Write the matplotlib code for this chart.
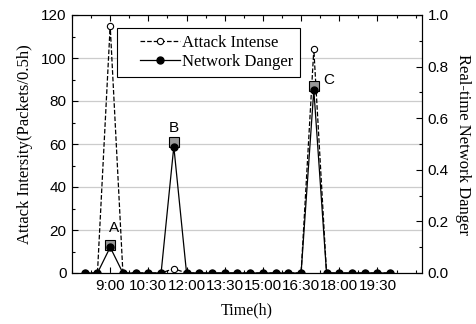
import matplotlib
matplotlib.use('Agg')
import matplotlib.pyplot as plt
from matplotlib.ticker import MultipleLocator, FixedLocator, FixedFormatter
from matplotlib.legend_handler import HandlerLine2D

plt.rcParams['font.family'] = ['Liberation Sans', 'DejaVu Sans']

# time axis: every half hour from 8:00 to 20:00 (in hours)
hours = [8 + 0.5 * i for i in range(25)]

# attack intensity (packets / 0.5h)
attack = [0, 0, 115, 0, 0, 0, 0, 2, 0, 0, 0, 0, 0, 0, 0, 0, 0, 0, 104, 0, 0, 0, 0, 0, 0]

# real-time network danger
danger = [0, 0, 0.10, 0, 0, 0, 0, 0.49, 0, 0, 0, 0, 0, 0, 0, 0, 0, 0, 0.71, 0, 0, 0, 0, 0, 0]

# marked peaks
peak_hours = [9.0, 11.5, 17.0]
peak_marks = [13, 61, 87]
peak_labels = ['A', 'B', 'C']

tick_hours = [9.0, 10.5, 12.0, 13.5, 15.0, 16.5, 18.0, 19.5]
tick_labels = ['9:00', '10:30', '12:00', '13:30', '15:00', '16:30', '18:00', '19:30']

sans = 'Liberation Sans'
serif = 'Liberation Serif'


class PaddedHandler(HandlerLine2D):
    # leave some blank space on the left of the legend line
    def create_artists(self, legend, orig_handle, xdescent, ydescent,
                       width, height, fontsize, trans):
        pad = 0.29 * width
        return super().create_artists(legend, orig_handle, xdescent - pad,
                                      ydescent, width - pad, height,
                                      fontsize, trans)


fig = plt.figure(figsize=(4.76, 3.24), dpi=100)
ax1 = fig.add_axes([72 / 476, 51 / 324, 350 / 476, 258 / 324])
ax2 = ax1.twinx()

l1, = ax1.plot(hours, attack, color='black', linestyle='--', lw=0.9,
               marker='o', markersize=4.5, markerfacecolor='white',
               markeredgecolor='black', markeredgewidth=0.8,
               zorder=3, label='Attack Intense')
ax1.plot(peak_hours, peak_marks, linestyle='none', marker='s', markersize=7,
         markerfacecolor='#999999', markeredgecolor='black',
         markeredgewidth=0.8, zorder=4)

l2, = ax2.plot(hours, danger, color='black', linestyle='-', lw=0.9,
               marker='o', markersize=5, markerfacecolor='black',
               markeredgecolor='black', zorder=3, label='Network Danger')

offsets = [(3, 12), (0, 10), (11, 4)]
for h, m, lab, off in zip(peak_hours, peak_marks, peak_labels, offsets):
    ax1.annotate(lab, (h, m), xytext=off, textcoords='offset points',
                 ha='center', va='center', fontsize=11, family=sans)

ax1.set_xlim(7.5, 21.25)
ax1.set_ylim(0, 120)
ax2.set_ylim(0, 1.0)

ax1.xaxis.set_major_locator(FixedLocator(tick_hours))
ax1.xaxis.set_major_formatter(FixedFormatter(tick_labels))
ax1.xaxis.set_minor_locator(MultipleLocator(0.75))
ax1.yaxis.set_major_locator(MultipleLocator(20))
ax1.yaxis.set_minor_locator(MultipleLocator(10))
ax2.yaxis.set_major_locator(MultipleLocator(0.2))
ax2.yaxis.set_minor_locator(MultipleLocator(0.1))
ax2.yaxis.set_major_formatter(plt.FormatStrFormatter('%.1f'))

ax1.tick_params(axis='x', which='both', direction='in', top=True, bottom=True)
ax1.tick_params(axis='y', which='both', direction='in', left=True, right=False)
ax1.tick_params(which='major', length=4, width=0.8, pad=4,
                labelsize=11, labelfontfamily=sans)
ax1.tick_params(which='minor', length=2.5, width=0.8)
ax2.tick_params(axis='y', which='both', direction='in')
ax2.tick_params(which='major', length=4, width=0.8, pad=4,
                labelsize=11, labelfontfamily=sans)
ax2.tick_params(which='minor', length=2.5, width=0.8)

ax1.yaxis.grid(True, color='#cccccc', lw=0.9)
ax1.set_axisbelow(True)

ax1.set_xlabel('Time(h)', family=serif, fontsize=11.5, labelpad=7)
ax1.set_ylabel('Attack Intersity(Packets/0.5h)', family=serif, fontsize=12, labelpad=6)
ax2.set_ylabel('Real-time Network Danger', family=serif, fontsize=12,
               rotation=270, labelpad=16)

leg = ax2.legend([l1, l2], ['Attack Intense', 'Network Danger'],
                 loc='upper left', bbox_to_anchor=(0.129, 0.95), borderaxespad=0,
                 prop={'family': serif, 'size': 12}, fancybox=False,
                 edgecolor='black', framealpha=1, handlelength=3.35,
                 handletextpad=0.15, labelspacing=0.2, borderpad=0.4,
                 handler_map={l1: PaddedHandler(), l2: PaddedHandler()})
leg.get_frame().set_linewidth(0.8)

fig.savefig('out.png', dpi=100)
